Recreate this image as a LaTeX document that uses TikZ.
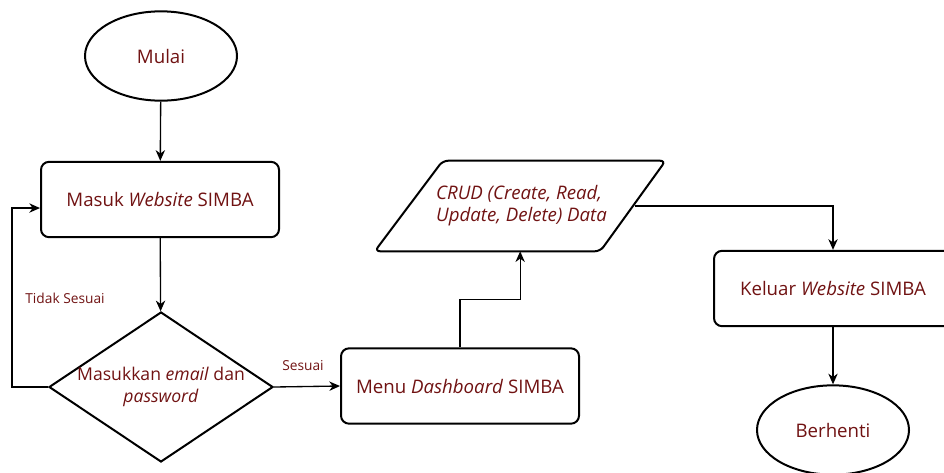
\documentclass[tikz,border=0pt]{standalone}
\usepackage{fontspec}
\setmainfont{Open Sans}
\usetikzlibrary{shapes.geometric,arrows.meta,positioning}
\definecolor{teks}{RGB}{112,18,18}

\begin{document}
\begin{tikzpicture}[x=0.75pt,y=-0.75pt,
	font=\fontsize{14}{17}\selectfont,
	>={Stealth[length=8pt,width=7pt,inset=2.5pt]},
	terminal/.style={ellipse,draw,line width=1.5pt,minimum width=114pt,minimum height=67pt,text=teks},
	proses/.style={rectangle,rounded corners=6pt,draw,line width=1.5pt,minimum width=178.5pt,minimum height=56.5pt,text=teks,align=center},
	keputusan/.style={diamond,draw,line width=1.5pt,shape aspect=1.5,inner sep=-4pt,minimum width=168pt,minimum height=112.5pt,text=teks,align=center,font=\fontsize{13.2}{16.5}\selectfont},
	data/.style={rectangle,inner sep=0pt,minimum width=117.75pt,minimum height=67.5pt,text=teks},
	ket/.style={font=\fontsize{10.3}{12}\selectfont,text=teks},
	line/.style={line width=1pt}]
	\useasboundingbox (0,0) rectangle (944,472);

	\node[terminal] (mulai) at (161,56) {Mulai};
	\node[proses] (masuk) at (160,199.5) {Masuk \textit{Website} SIMBA};
	\node[keputusan] (cek) at (161,387) {Masukkan \textit{email} dan\\\textit{password}};
	\node[proses] (menu) at (460,386) {Menu \textit{Dashboard} SIMBA};
	\node[data] (crud) at (521.5,206) {\makebox[0pt]{\begin{tabular}{@{}l@{}}\textit{CRUD (Create, Read,}\\\textit{Update, Delete) Data}\end{tabular}}};
	\node[proses] (keluar) at (833,288.5) {Keluar \textit{Website} SIMBA};
	\node[terminal] (berhenti) at (833,430) {Berhenti};

	% bingkai data (jajar genjang)
	\draw[line width=1.5pt,rounded corners=4pt] ([xshift=-51pt]crud.south west) -- (crud.north west)
		-- ([xshift=49pt]crud.north east) -- (crud.south east) -- cycle;
	\coordinate (crudkanan) at ([xshift=26pt]crud.east);

	\node[ket] (tidak) at (65,298) {Tidak Sesuai};
	\node[ket] (sesuai) at (303,366) {Sesuai};
	\coordinate (balik) at (12,387);

	\draw[->,line] (mulai) -- (masuk);
	\draw[->,line] (masuk) -- (cek);
	\draw[->,line] (cek.west) -- (balik) |- ([yshift=-6.4pt]masuk.west);
	\draw[->,line] (cek.east) -- (menu.west);
	\draw[->,line] (menu.north) -- ++(0,-48) -| ([xshift=-1pt]crud.south);
	\draw[->,line] (crudkanan) -| (keluar.north);
	\draw[->,line] (keluar) -- (berhenti);
\end{tikzpicture}
\end{document}
